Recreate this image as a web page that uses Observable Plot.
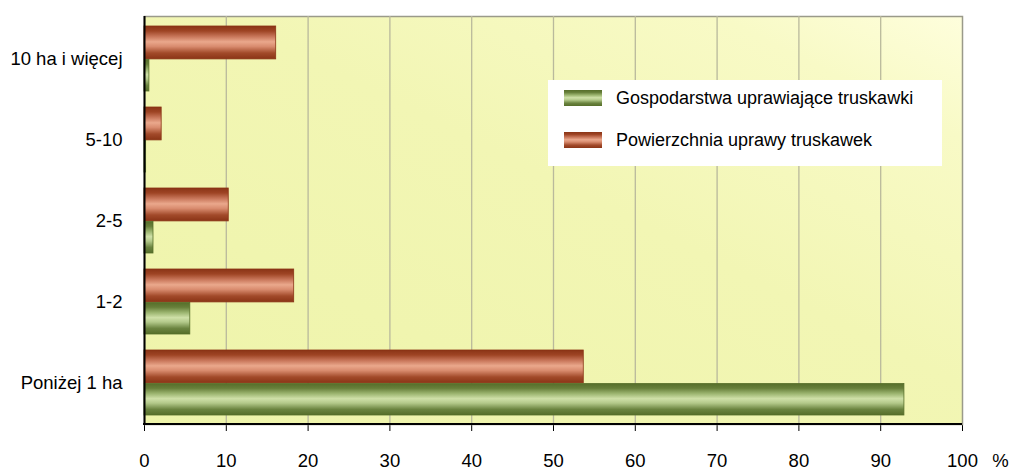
<!DOCTYPE html>
<html><head><meta charset="utf-8">
<script src="https://cdn.jsdelivr.net/npm/d3@7"></script>
<script src="https://cdn.jsdelivr.net/npm/@observablehq/plot@0.6"></script>
<style>
body{margin:0;background:#fff;}
#chart{position:relative;width:1020px;height:470px;overflow:hidden;}
.legend{position:absolute;left:548px;top:80px;width:394px;height:86px;background:#fff;
  font-family:"Liberation Sans",Arial,sans-serif;font-size:18px;color:#000;}
.legend .item{position:absolute;left:16px;height:20px;display:flex;align-items:center;white-space:nowrap;}
.legend .sw{width:38px;height:16px;margin-right:14px;}
</style>
</head><body>
<div id="chart"></div>
<script>
const categories = ["10 ha i więcej", "5-10", "2-5", "1-2", "Poniżej 1 ha"];
const seriesNames = ["Gospodarstwa uprawiające truskawki", "Powierzchnia uprawy truskawek"];
const farmsShare = [0.6, 0.2, 1.1, 5.6, 92.9];
const areaShare = [16.1, 2.1, 10.3, 18.3, 53.7];
const xTicks = [0, 10, 20, 30, 40, 50, 60, 70, 80, 90, 100];
const unitLabel = "%";

const farmsRows = categories.map((c, i) => ({cat: c, value: farmsShare[i]}));
const areaRows = categories.map((c, i) => ({cat: c, value: areaShare[i]}));

const font = '"Liberation Sans",Arial,sans-serif';

const defs = () => {
  const ns = "http://www.w3.org/2000/svg";
  const d = document.createElementNS(ns, "defs");
  d.innerHTML = `
    <linearGradient id="bgGrad" x1="0" y1="1" x2="1" y2="0">
      <stop offset="0" stop-color="#eef4aa"/>
      <stop offset="0.55" stop-color="#f2f6b4"/>
      <stop offset="0.85" stop-color="#f8fac6"/>
      <stop offset="1" stop-color="#fefedc"/>
    </linearGradient>
    <linearGradient id="gRed" x1="0" y1="0" x2="0" y2="1">
      <stop offset="0" stop-color="#8a3416"/>
      <stop offset="0.15" stop-color="#9e4424"/>
      <stop offset="0.32" stop-color="#c8765a"/>
      <stop offset="0.48" stop-color="#eaa88c"/>
      <stop offset="0.62" stop-color="#d98c6f"/>
      <stop offset="0.82" stop-color="#a24a2a"/>
      <stop offset="1" stop-color="#8a3416"/>
    </linearGradient>
    <linearGradient id="gGreen" x1="0" y1="0" x2="0" y2="1">
      <stop offset="0" stop-color="#566e2a"/>
      <stop offset="0.15" stop-color="#677f3a"/>
      <stop offset="0.32" stop-color="#9cb570"/>
      <stop offset="0.48" stop-color="#cfe0a8"/>
      <stop offset="0.62" stop-color="#b3c98a"/>
      <stop offset="0.82" stop-color="#6b8440"/>
      <stop offset="1" stop-color="#566e2a"/>
    </linearGradient>`;
  return d;
};

const bottomAxisLine = (index, scales, values, dimensions) => {
  const {width, height, marginLeft, marginRight, marginBottom} = dimensions;
  const g = d3.create("svg:g");
  g.append("line")
    .attr("x1", marginLeft - 1).attr("x2", width - marginRight)
    .attr("y1", height - marginBottom).attr("y2", height - marginBottom)
    .attr("stroke", "#000").attr("stroke-width", 2);
  return g.node();
};

const plot = Plot.plot({
  width: 1020,
  height: 470,
  marginLeft: 144,
  marginRight: 58,
  marginTop: 16,
  marginBottom: 46,
  style: {fontFamily: font, fontSize: "18.5px", color: "#000", background: "transparent", overflow: "visible"},
  x: {domain: [0, 100], ticks: xTicks, tickSize: 7, tickPadding: 22, tickFormat: d => String(d), label: null},
  y: {domain: categories, padding: 0, tickSize: 0, tickPadding: 22, label: null},
  marks: [
    defs,
    Plot.frame({fill: "url(#bgGrad)", stroke: "#9a9a8a", strokeWidth: 1.5}),
    Plot.ruleX(xTicks.filter(t => t > 0 && t < 100), {stroke: "#b9b99c", strokeWidth: 1.3}),
    Plot.barX(areaRows, {x: "value", y: "cat", fill: "url(#gRed)", stroke: "#8a3416", strokeWidth: 0.8, insetTop: 8, insetBottom: 40.1}),
    Plot.barX(farmsRows, {x: "value", y: "cat", fill: "url(#gGreen)", stroke: "#566e2a", strokeWidth: 0.8, insetTop: 41.5, insetBottom: 8}),
    Plot.ruleX([0], {stroke: "#000", strokeWidth: 2}),
    bottomAxisLine,
    Plot.text([unitLabel], {text: d => d, frameAnchor: "bottom-right", dx: 38, dy: 29, lineAnchor: "top", textAnchor: "middle", fontSize: 18.5})
  ]
});

const chart = document.getElementById("chart");
chart.appendChild(plot);

const colorsCss = [
  "linear-gradient(to bottom,#566e2a 0%,#677f3a 15%,#9cb570 32%,#cfe0a8 48%,#b3c98a 62%,#6b8440 82%,#566e2a 100%)",
  "linear-gradient(to bottom,#8a3416 0%,#9e4424 15%,#c8765a 32%,#eaa88c 48%,#d98c6f 62%,#a24a2a 82%,#8a3416 100%)"
];
const legend = document.createElement("div");
legend.className = "legend";
seriesNames.forEach((name, i) => {
  const item = document.createElement("div");
  item.className = "item";
  item.style.top = (i === 0 ? 8 : 50) + "px";
  const sw = document.createElement("span");
  sw.className = "sw";
  sw.style.background = colorsCss[i];
  const tx = document.createElement("span");
  tx.textContent = name;
  item.appendChild(sw);
  item.appendChild(tx);
  legend.appendChild(item);
});
chart.appendChild(legend);
</script>
</body></html>
